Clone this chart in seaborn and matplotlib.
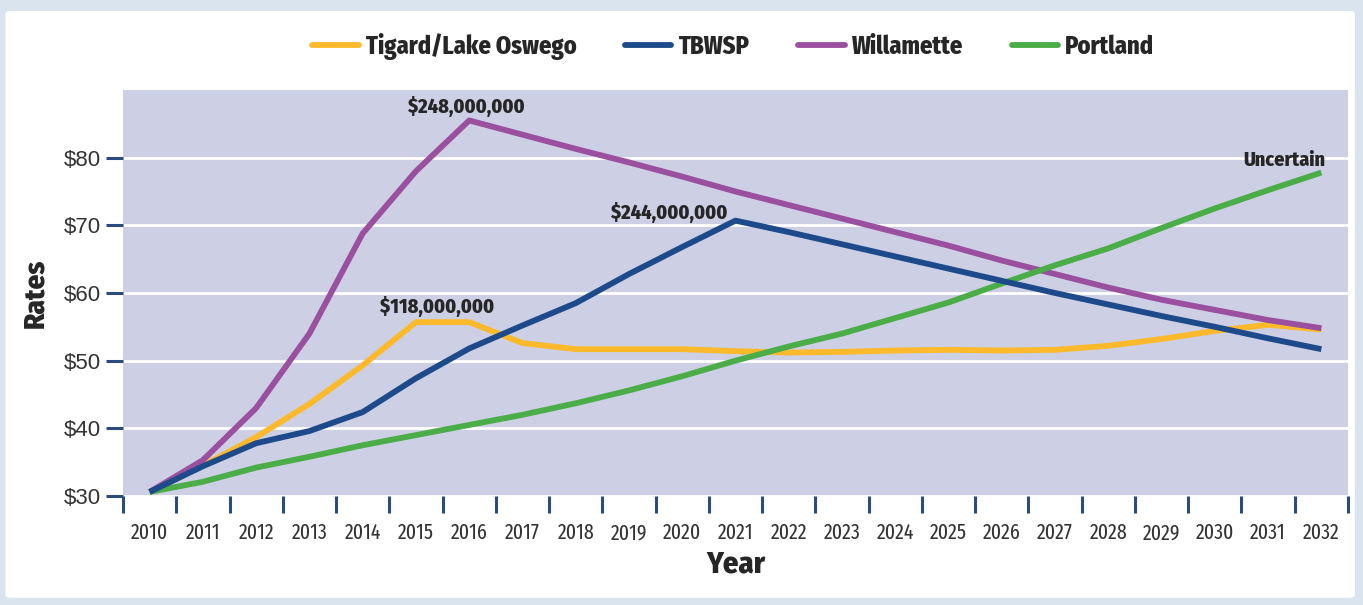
import numpy as np
import pandas as pd
import matplotlib
matplotlib.use("Agg")
import matplotlib.pyplot as plt
from matplotlib.patches import FancyBboxPatch
from matplotlib.lines import Line2D
import seaborn as sns
import logging
logging.getLogger("matplotlib.font_manager").setLevel(logging.ERROR)

years = [str(y) for y in range(2010, 2033)]
tigard = [30.6, 34.5, 38.7, 43.6, 49.3, 55.7, 55.7, 52.6, 51.7, 51.7, 51.7, 51.4,
          51.2, 51.3, 51.5, 51.6, 51.5, 51.6, 52.2, 53.2, 54.4, 55.3, 54.6]
tbwsp = [30.6, 34.4, 37.8, 39.6, 42.4, 47.4, 51.8, 55.2, 58.5, 62.8, 66.8, 70.7,
         69.0, 67.2, 65.4, 63.6, 61.8, 60.0, 58.3, 56.6, 55.0, 53.3, 51.7]
willamette = [30.6, 35.3, 43.0, 54.0, 68.8, 78.0, 85.5, 83.4, 81.3, 79.3, 77.2, 75.0,
              73.0, 71.0, 69.0, 67.0, 64.8, 62.8, 60.8, 59.0, 57.5, 56.0, 54.8]
portland = [30.6, 32.1, 34.2, 35.8, 37.5, 39.0, 40.5, 42.0, 43.7, 45.6, 47.7, 50.0,
            52.1, 54.0, 56.3, 58.6, 61.4, 64.1, 66.6, 69.6, 72.5, 75.2, 77.8]
series_names = ["Tigard/Lake Oswego", "TBWSP", "Willamette", "Portland"]
colors = ["#fbb92b", "#1d4a8a", "#9a4f9f", "#4bad48"]
annotations = [("$248,000,000", 5.95, 87.6), ("$244,000,000", 9.75, 71.9), ("$118,000,000", 5.4, 58.0),
               ("Uncertain", 21.3, 79.6)]

BOLD = ["Fira Sans Condensed", "Fira Sans Extra Condensed", "Liberation Sans", "DejaVu Sans"]
REG_XC = ["Fira Sans Extra Condensed", "Fira Sans Condensed", "Liberation Sans", "DejaVu Sans"]
REG_Y = ["Liberation Sans", "DejaVu Sans"]

df = pd.DataFrame({
    "x": list(range(len(years))) * 4,
    "value": tigard + tbwsp + willamette + portland,
    "series": sum([[n] * len(years) for n in series_names], []),
})

sns.set_theme(style="white")
plt.rcParams["font.family"] = ["Liberation Sans", "DejaVu Sans"]

fig = plt.figure(figsize=(13.63, 6.05), dpi=100)
fig.patch.set_facecolor("#d9e4ef")
panel = FancyBboxPatch((0.004, 0.012), 0.99, 0.97, boxstyle="round,pad=0,rounding_size=0.004",
                       transform=fig.transFigure, facecolor="white", edgecolor="none", zorder=-10)
fig.patches.append(panel)

ax = fig.add_axes([123 / 1363, 1 - 496 / 605, (1348 - 123) / 1363, (496 - 90) / 605])
ax.set_facecolor("#cdd0e4")
sns.lineplot(data=df, x="x", y="value", hue="series", hue_order=series_names,
             palette=colors, linewidth=4.2, ax=ax, legend=False)
zorders = [3, 6, 4, 5]
for line, z in zip(ax.get_lines(), zorders):
    line.set_zorder(z)
    line.set_solid_capstyle("butt")

ax.set_xlim(-0.5, 22.5)
ax.set_ylim(30, 90)
for s in ax.spines.values():
    s.set_visible(False)
ax.set_yticks([30, 40, 50, 60, 70, 80])
ax.set_yticklabels(["$30", "$40", "$50", "$60", "$70", "$80"], family=REG_Y, fontsize=16)
ax.yaxis.grid(True, color="white", linewidth=2)
ax.set_axisbelow(True)
ax.tick_params(axis="y", length=12, width=2.2, color="#2b4a7e", labelcolor="#333333", pad=4, left=True)
ax.set_xticks(range(len(years)))
ax.set_xticklabels(years, family=REG_XC, fontsize=15.5)
ax.set_xticks(np.arange(-0.5, 23, 1), minor=True)
ax.tick_params(axis="x", which="major", length=0, labelcolor="#333333", pad=19)
ax.tick_params(axis="x", which="minor", length=12, width=2.2, color="#2b4a7e", bottom=True)

ax.set_xlabel("Year", family=BOLD, fontweight=800, fontsize=22, color="#262626", labelpad=4)
ax.set_ylabel("Rates", family=BOLD, fontweight=800, fontsize=21, color="#262626", labelpad=10)

for txt, x, y in annotations:
    ax.text(x, y, txt, ha="center", va="center", family=BOLD, fontweight=800,
            fontsize=14.5, color="#262626", zorder=10)

handles = [Line2D([0], [0], color=c, lw=4.2) for c in colors]
fig.legend(handles, series_names, loc="center", bbox_to_anchor=(0.538, 1 - 46 / 605), ncol=4,
           frameon=False, prop={"family": BOLD, "weight": 800, "size": 17.5},
           handlelength=1.9, handletextpad=0.3, columnspacing=2.0, labelcolor="#262626")

fig.savefig("out.png", dpi=100, facecolor=fig.get_facecolor())
